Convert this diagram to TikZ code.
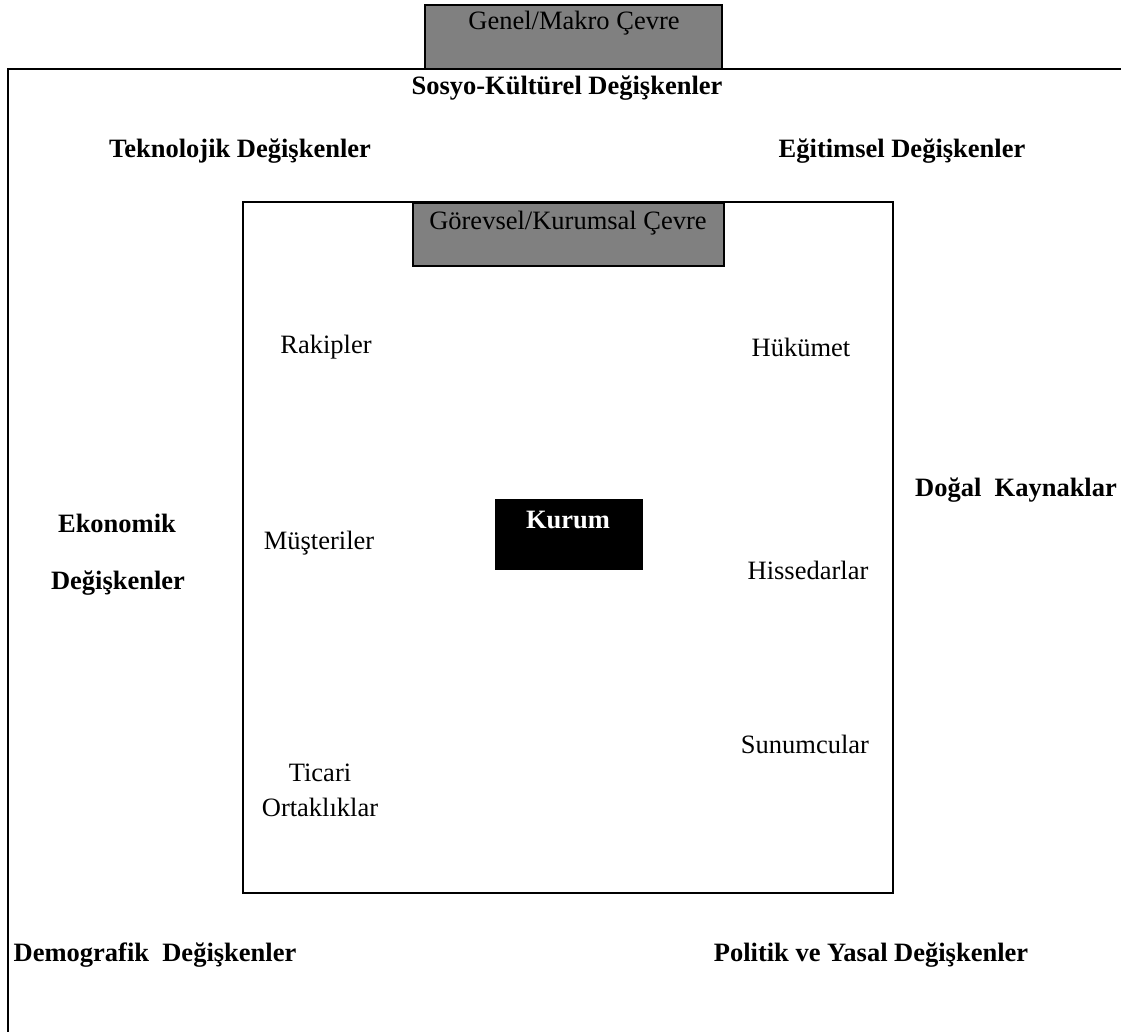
\documentclass[tikz,border=0pt]{standalone}
\usepackage{fontspec}
\setmainfont{Liberation Serif}
\begin{document}
\begin{tikzpicture}[x=1pt,y=-1pt,
  frame/.style={line width=2.4pt,draw=black},
  graybox/.style={frame,fill=boxgray},
  var/.style={font=\fontsize{26.5}{30}\selectfont\bfseries,inner sep=0pt},
  actor/.style={font=\fontsize{26.5}{30}\selectfont,inner sep=0pt,align=center}]
\definecolor{boxgray}{HTML}{808080}
\useasboundingbox (0,0) rectangle (1121,1032);
% outer (macro) environment: open frame, top and left sides only
\coordinate (ftl) at (8,69);
\coordinate (ftr) at (1121,69);
\coordinate (fbl) at (8,1032);
\draw[frame] (ftr) -- (ftl) -- (fbl);
% macro label tab
\draw[graybox] (425,5) rectangle (722,69);
\node[actor] (macro) at (574,23) {Genel/Makro Çevre};
% task environment box
\draw[frame] (243,202) rectangle (893,893);
\draw[graybox] (413,203) rectangle (724,266);
\node[actor] (task) at (568,223) {Görevsel/Kurumsal Çevre};
% organisation
\draw[line width=1pt,fill=black] (495,499) rectangle (642,569);
\node[var,text=white] (kurum) at (568,520) {Kurum};
% macro variables
\node[var] (sosyo) at (567,88) {Sosyo-Kültürel Değişkenler};
\node[var] (tekno) at (240,151) {Teknolojik Değişkenler};
\node[var] (egitim) at (902,151) {Eğitimsel Değişkenler};
\node[var] (dogal) at (1016,490) {Doğal\ \ Kaynaklar};
\node[var] (ekon1) at (117,523) {Ekonomik};
\node[var] (ekon2) at (118,583) {Değişkenler};
\node[var] (demo) at (155,955) {Demografik\ \ Değişkenler};
\node[var] (polit) at (871,955) {Politik ve Yasal Değişkenler};
% task environment actors
\node[actor] (rakip) at (326,347) {Rakipler};
\node[actor] (hukumet) at (801,347) {Hükümet};
\node[actor] (musteri) at (319,543) {Müşteriler};
\node[actor] (hisse) at (808,570) {Hissedarlar};
\node[actor] (sunum) at (805,744) {Sunumcular};
\node[actor] (ticari1) at (320,773) {Ticari};
\node[actor] (ticari2) at (320,807) {Ortaklıklar};
\end{tikzpicture}
\end{document}
